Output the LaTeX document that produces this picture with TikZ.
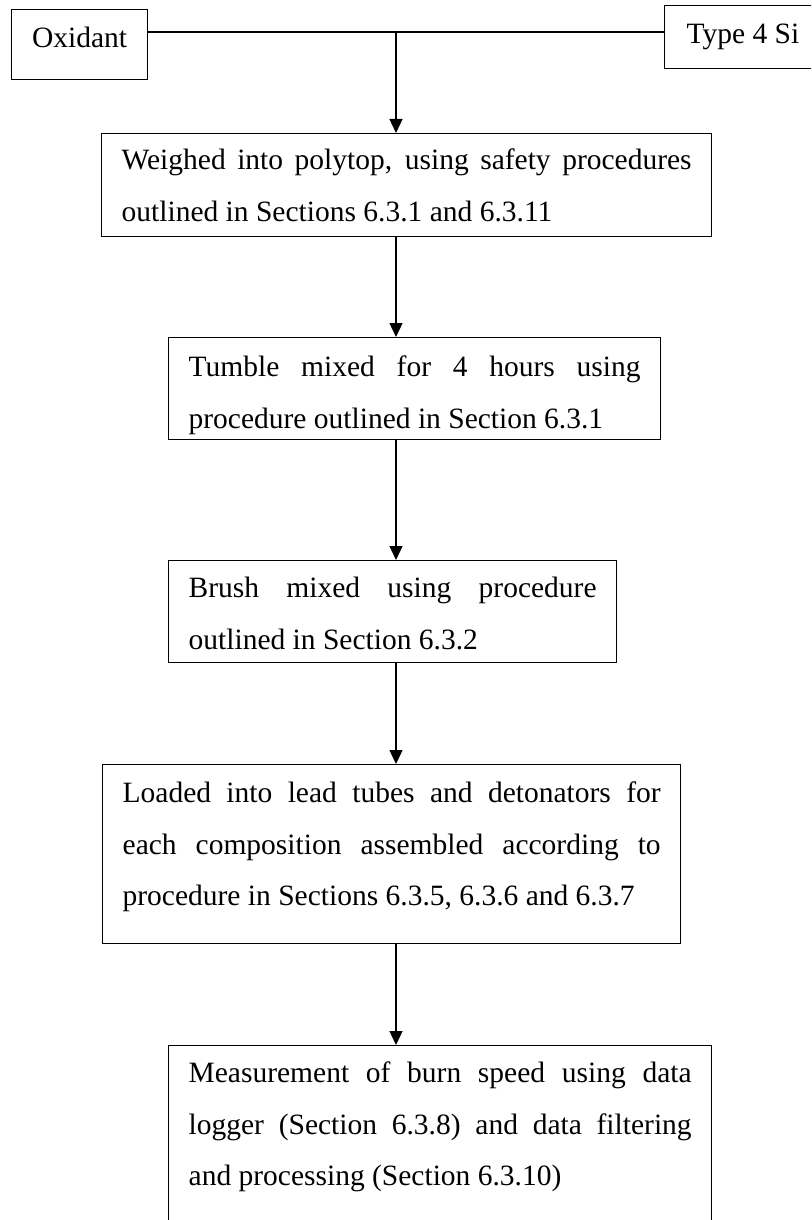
\documentclass[tikz,border=0pt]{standalone}
\usepackage{fontspec}
\setmainfont{Liberation Serif}
\usetikzlibrary{arrows.meta}
\hyphenpenalty=10000
\exhyphenpenalty=10000

\tikzset{
  stepbox/.style={draw, line width=0.65pt, anchor=north west, inner xsep=10pt, inner ysep=0pt, align=justify, text height=18pt},
  srcbox/.style={draw, line width=0.65pt, anchor=north west, inner ysep=0pt, align=center},
  flow/.style={line width=0.65pt, -{Triangle[length=7pt,width=6.5pt]}}
}

\begin{document}
\begin{tikzpicture}[x=0.5pt, y=-0.5pt, font=\fontsize{14.75pt}{25.75pt}\selectfont]
  \useasboundingbox (0,0) rectangle (811,1220);
  \clip (0,0) rectangle (811,1220);
  \node[srcbox, minimum width=68pt, text height=19pt, text depth=16pt] (ox) at (11,9) {Oxidant};
  \node[srcbox, inner xsep=11pt, text height=19pt, text depth=12.5pt] (si) at (664,5) {Type 4 Si};
  \coordinate (join) at (396,32);
  \node[stepbox, text width=285pt, text depth=33.5pt] (weigh) at (101,133)
    {Weighed into polytop, using safety procedures\linebreak outlined in Sections 6.3.1 and 6.3.11};
  \node[stepbox, text width=226pt, text height=19.5pt, text depth=31.5pt] (tumble) at (168,337)
    {Tumble mixed for 4 hours using\linebreak procedure outlined in Section 6.3.1};
  \node[stepbox, text width=204pt, text height=18.5pt, text depth=32.5pt] (brush) at (168,560)
    {Brush mixed using procedure\linebreak outlined in Section 6.3.2};
  \node[stepbox, text width=269pt, text height=19pt, text depth=70.5pt] (load) at (102,764)
    {Loaded into lead tubes and detonators for\linebreak each composition assembled according to\linebreak procedure in Sections 6.3.5, 6.3.6 and 6.3.7};
  \node[stepbox, text width=251.5pt, text height=18.5pt, text depth=79pt] (burn) at (168,1045)
    {Measurement of burn speed using data\linebreak logger (Section 6.3.8) and data filtering\linebreak and processing (Section 6.3.10)};
  \path[flow]
  (ox.east |- join) edge[-] (si.west |- join)
  (join) edge (join |- weigh.north)
  (join |- weigh.south) edge (join |- tumble.north)
  (join |- tumble.south) edge (join |- brush.north)
  (join |- brush.south) edge (join |- load.north)
  (join |- load.south) edge (join |- burn.north)
;
\end{tikzpicture}
\end{document}
